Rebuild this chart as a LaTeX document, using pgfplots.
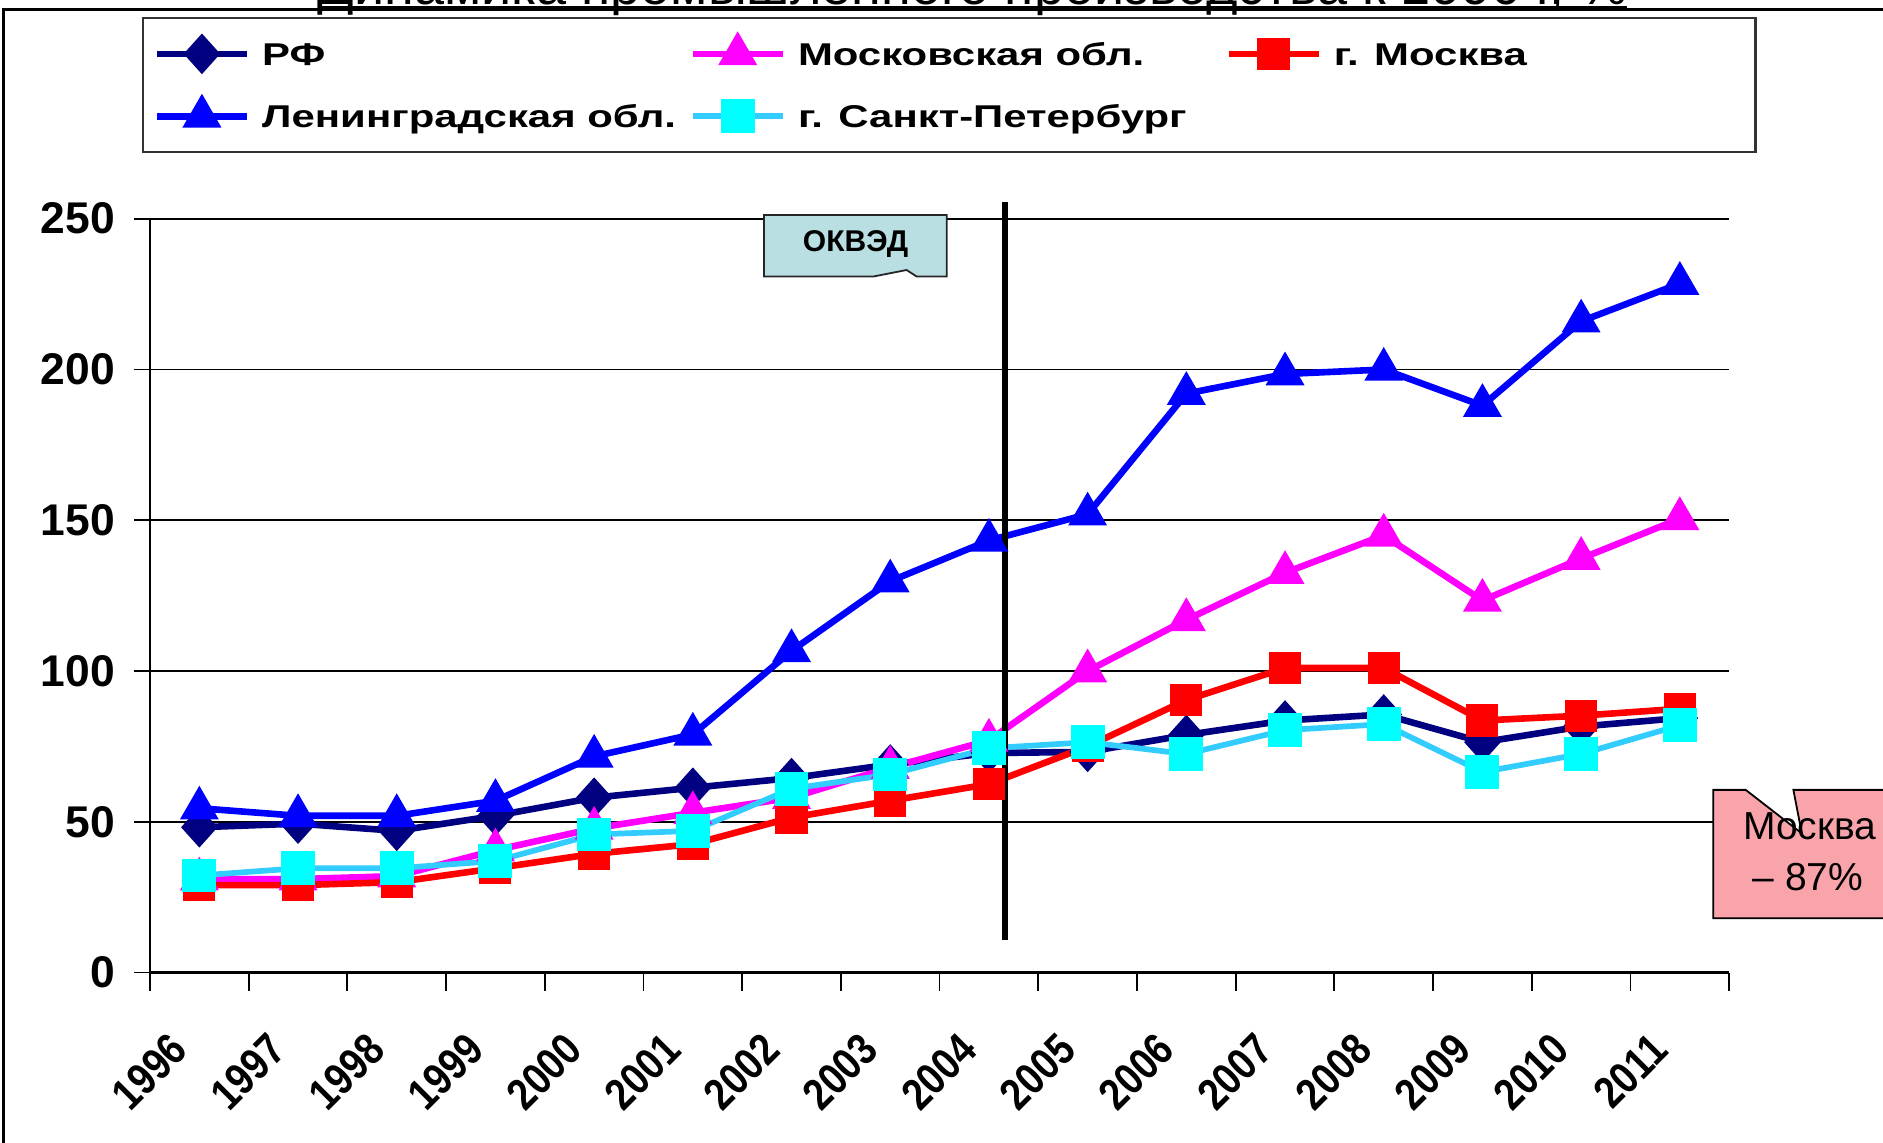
\documentclass[border=0pt]{standalone}
\usepackage{fontspec}
\setmainfont{Liberation Sans}
\newfontfamily\legfont[FakeStretch=1.33]{Liberation Sans}
\newfontfamily\yearfont[FakeStretch=0.85]{Liberation Sans}
\usepackage{pgfplots}
\pgfplotsset{compat=1.18}
\definecolor{rfc}{HTML}{000080}
\definecolor{moc}{HTML}{FF00FF}
\definecolor{msc}{HTML}{FF0000}
\definecolor{lec}{HTML}{0000FF}
\definecolor{spl}{HTML}{33CCFF}
\definecolor{spm}{HTML}{00FFFF}
\definecolor{okv}{HTML}{B9DFE3}
\definecolor{mbox}{HTML}{F9A3AA}
\begin{document}
\begin{tikzpicture}[x=1pt,y=1pt]
\path[use as bounding box, clip] (0,0) rectangle (627.67,381);
\draw[line width=1pt, black] (1,-10) -- (1,377.7) -- (640,377.7);
\node[anchor=base, font=\fontsize{18}{20}\selectfont, inner sep=0pt] at (324.2,379.6) {Динамика промышленного производства к 1990 г, \%};
\draw[line width=0.8pt] (106,378.7) -- (542.4,378.7);
\begin{axis}[
  at={(50pt,56.8pt)}, anchor=south west,
  scale only axis, width=526.4pt, height=251.3pt,
  xmin=-0.5, xmax=15.5, ymin=0, ymax=250,
  axis lines*=left, axis line style={line width=0.8pt},
  clip=false,
  ytick={0,50,100,150,200,250},
  ymajorgrids, grid style={black, line width=0.6pt},
  xtick={0,1,2,3,4,5,6,7,8,9,10,11,12,13,14,15},
  xticklabels={1996,1997,1998,1999,2000,2001,2002,2003,2004,2005,2006,2007,2008,2009,2010,2011},
  minor xtick={-0.5,0.5,...,15.5},
  tick align=outside, major tick length=5.2pt, minor tick length=6pt,
  tick style={black, line width=0.6pt},
  major x tick style={draw=none},
  /pgf/number format/assume math mode=true,
  yticklabel style={font=\fontsize{14.8}{17}\selectfont\bfseries, xshift=-3pt},
  xticklabel style={font=\yearfont\fontsize{14.8}{17}\selectfont\bfseries, xshift=-10.5pt, yshift=-14pt, rotate=45, anchor=north east, inner sep=0pt},
  legend columns=3,
  legend cell align=left,
  legend style={at={(-0.0053,1.268)}, anchor=north west, draw=black!80, line width=0.8pt,
    inner xsep=3.6pt, inner ysep=1.6pt,
    font=\legfont\fontsize{10.5}{13}\selectfont\bfseries,
    nodes={inner sep=0pt, text height=14.15pt, text depth=6.65pt},
    /tikz/every odd column/.append style={column sep=4pt}},
  legend image code/.code={\draw[mark repeat=2,mark phase=2,#1] plot coordinates {(0pt,0pt) (15pt,0pt) (30pt,0pt)};},
]
\addplot[rfc, line width=2.2pt, mark=diamond*, mark size=6.4pt, mark options={solid, xscale=1.2, fill=rfc, draw=rfc, line width=0.5pt}] coordinates {
(0,48.2) (1,49.4) (2,47) (3,52) (4,58) (5,61.3) (6,64.5) (7,69) (8,72.8) (9,73.2) (10,78.8) (11,83.6) (12,85.6) (13,76.4) (14,81.6) (15,84.4)};
\addlegendentry{\makebox[142.4pt][l]{РФ}}
\addplot[moc, line width=2.2pt, mark=triangle*, mark size=7pt, mark options={solid, fill=moc, draw=moc, line width=0.5pt}] coordinates {
(0,31) (1,31) (2,32) (3,40.6) (4,47.8) (5,53) (6,58) (7,68) (8,77) (9,100) (10,117) (11,132.6) (12,145) (13,123.4) (14,137.3) (15,150.5)};
\addlegendentry{\makebox[142.4pt][l]{Московская обл.}}
\addplot[msc, line width=2.2pt, mark=square*, mark size=5.1pt, mark options={solid, fill=msc, draw=msc, line width=0.5pt}] coordinates {
(0,29) (1,29) (2,30) (3,34.6) (4,39.4) (5,42.6) (6,51.4) (7,57) (8,62.5) (9,75) (10,90.4) (11,101) (12,101) (13,83.6) (14,85.2) (15,87.5)};
\addlegendentry{\makebox[137pt][l]{г. Москва}}
\addplot[lec, line width=2.2pt, mark=triangle*, mark size=7pt, mark options={solid, fill=lec, draw=lec, line width=0.5pt}] coordinates {
(0,54.5) (1,52) (2,52) (3,57) (4,71.7) (5,79) (6,106.7) (7,129.8) (8,143.3) (9,152) (10,192) (11,198.5) (12,200) (13,188) (14,216) (15,228.5)};
\addlegendentry{\makebox[142.4pt][l]{Ленинградская обл.}}
\addplot[spl, line width=1.9pt, mark=square*, mark size=5.4pt, mark options={solid, fill=spm, draw=spm, line width=0.5pt}] coordinates {
(0,32.2) (1,34.6) (2,34.6) (3,37) (4,45.8) (5,47) (6,61) (7,65.7) (8,74.4) (9,76.4) (10,72.5) (11,80.4) (12,82.4) (13,66.5) (14,72.5) (15,82)};
\addlegendentry{\makebox[142.4pt][l]{г. Санкт-Петербург}}
\draw[line width=2pt, black] (axis cs:8.163,10.7) -- (axis cs:8.163,255.7);
\end{axis}
\draw[fill=okv, draw=black!85, line width=0.6pt] (254.7,309.3) -- (315.6,309.3) -- (315.6,288.8) -- (305.6,288.8) -- (302.2,291.0) -- (291,288.8) -- (254.7,288.8) -- cycle;
\node[font=\fontsize{10}{12}\selectfont\bfseries] at (285.2,299.6) {ОКВЭД};
\draw[fill=mbox, draw=black, line width=0.6pt] (571.1,117.7) -- (581.9,117.7) -- (600.6,103.2) -- (597.8,117.7) -- (640,117.7) -- (640,74.9) -- (571.1,74.9) -- cycle;
\node[anchor=base, font=\fontsize{13}{15}\selectfont, inner sep=0pt] at (603.3,101) {Москва};
\node[anchor=base, font=\fontsize{13}{15}\selectfont, inner sep=0pt] at (602.7,84.3) {– 87\%};
\end{tikzpicture}
\end{document}
